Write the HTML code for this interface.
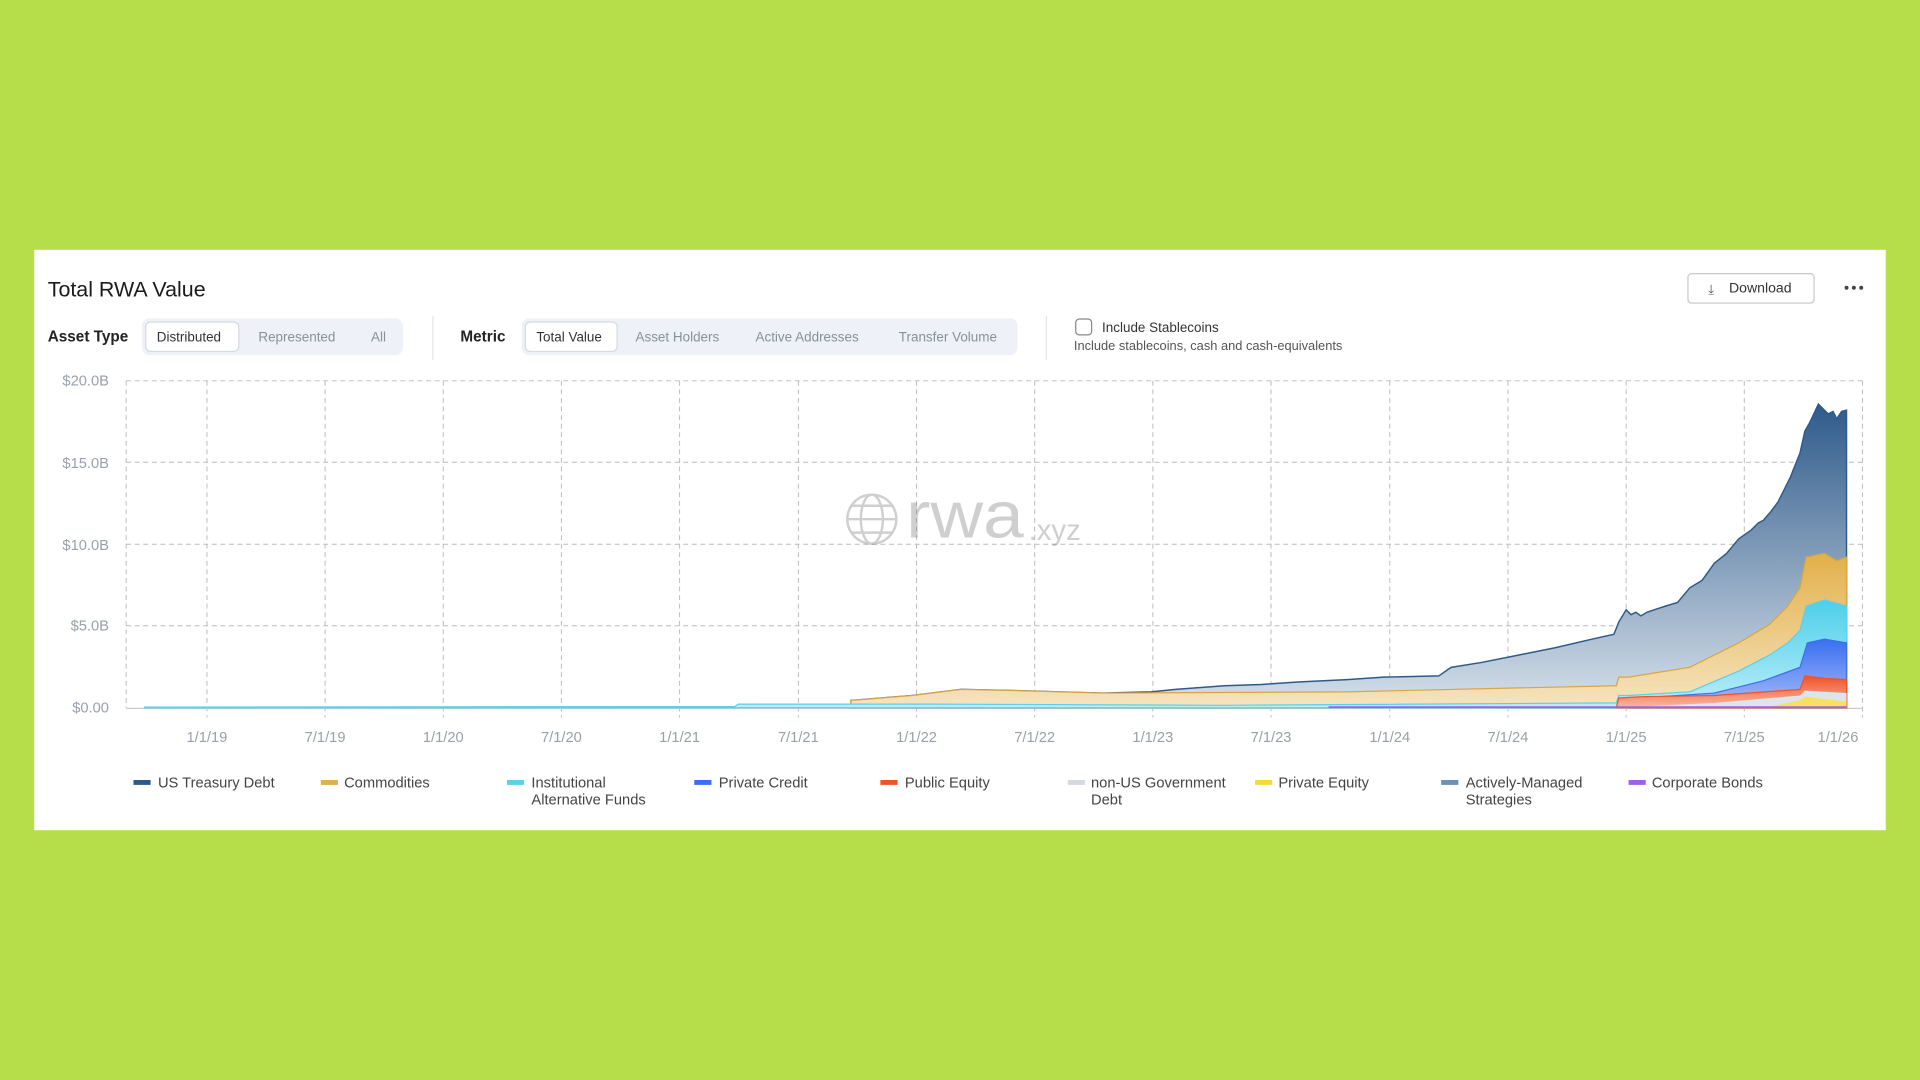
<!DOCTYPE html>
<html><head><meta charset="utf-8"><style>
html,body{margin:0;padding:0;background:#b5de4a;}
svg{display:block;}
text{font-family:"Liberation Sans",sans-serif;}
</style></head><body>
<svg width="1920" height="1080" viewBox="0 0 1568 882" xmlns="http://www.w3.org/2000/svg">
<defs>
<linearGradient id="gT" x1="0" y1="0" x2="0" y2="1"><stop offset="0" stop-color="#2e5a8a"/><stop offset="1" stop-color="#d6e0ea"/></linearGradient>
<linearGradient id="gC" x1="0" y1="0" x2="0" y2="1"><stop offset="0" stop-color="#e2b04a"/><stop offset="1" stop-color="#f6e4c0"/></linearGradient>
<linearGradient id="gI" x1="0" y1="0" x2="0" y2="1"><stop offset="0" stop-color="#4ccfea"/><stop offset="1" stop-color="#bdeef8"/></linearGradient>
<linearGradient id="gP" x1="0" y1="0" x2="0" y2="1"><stop offset="0" stop-color="#3a6ff0"/><stop offset="1" stop-color="#a8bcf8"/></linearGradient>
<linearGradient id="gE" x1="0" y1="0" x2="0" y2="1"><stop offset="0" stop-color="#f0522a"/><stop offset="1" stop-color="#f8b8a0"/></linearGradient>
</defs>
<rect width="1568" height="882" fill="#b5de4a"/>
<rect x="28" y="204" width="1512" height="474" fill="#fff"/>
<text x="39" y="242" font-size="17.5" fill="#1a1a1a">Total RWA Value</text>
<rect x="1378.5" y="223.5" width="103" height="24" rx="3" fill="#fff" stroke="#c8c8c8"/>
<text x="1395" y="240" font-size="11" fill="#555">⤓</text>
<text x="1412" y="239" font-size="11.5" fill="#333">Download</text>
<circle cx="1508" cy="235" r="1.6" fill="#444"/><circle cx="1514" cy="235" r="1.6" fill="#444"/><circle cx="1520" cy="235" r="1.6" fill="#444"/>
<text x="39" y="279" font-size="12.5" font-weight="bold" fill="#222">Asset Type</text>
<rect x="116" y="260" width="213" height="30" rx="6" fill="#eef1f8"/>
<rect x="119" y="263" width="76" height="24" rx="4" fill="#fff" stroke="#d6d9e0"/>
<text x="128" y="279" font-size="11" fill="#333">Distributed</text>
<text x="211" y="279" font-size="11" fill="#8a8f99">Represented</text>
<text x="303" y="279" font-size="11" fill="#8a8f99">All</text>
<line x1="353.5" y1="258" x2="353.5" y2="294" stroke="#e3e5ea"/>
<text x="376" y="279" font-size="12.5" font-weight="bold" fill="#222">Metric</text>
<rect x="426" y="260" width="405" height="30" rx="6" fill="#eef1f8"/>
<rect x="429" y="263" width="75" height="24" rx="4" fill="#fff" stroke="#d6d9e0"/>
<text x="438" y="279" font-size="11" fill="#333">Total Value</text>
<text x="519" y="279" font-size="11" fill="#8a8f99">Asset Holders</text>
<text x="617" y="279" font-size="11" fill="#8a8f99">Active Addresses</text>
<text x="734" y="279" font-size="11" fill="#8a8f99">Transfer Volume</text>
<line x1="854.5" y1="258" x2="854.5" y2="294" stroke="#e3e5ea"/>
<rect x="878.5" y="260.5" width="13" height="13" rx="3" fill="#fff" stroke="#888"/>
<text x="900" y="271" font-size="11" fill="#333">Include Stablecoins</text>
<text x="877" y="286" font-size="10.5" fill="#555">Include stablecoins, cash and cash-equivalents</text>
<g stroke="#bbb" stroke-dasharray="4,3" stroke-width="0.8" fill="none">
<line x1="103" y1="311" x2="1521" y2="311"/><line x1="103" y1="377.5" x2="1521" y2="377.5"/><line x1="103" y1="444.5" x2="1521" y2="444.5"/><line x1="103" y1="511" x2="1521" y2="511"/>
<line x1="103" y1="311" x2="103" y2="578"/><line x1="1521" y1="311" x2="1521" y2="586"/>
<line x1="169" y1="311" x2="169" y2="586"/><line x1="265.5" y1="311" x2="265.5" y2="586"/><line x1="362" y1="311" x2="362" y2="586"/><line x1="458.5" y1="311" x2="458.5" y2="586"/><line x1="555" y1="311" x2="555" y2="586"/><line x1="652" y1="311" x2="652" y2="586"/><line x1="748.5" y1="311" x2="748.5" y2="586"/><line x1="845" y1="311" x2="845" y2="586"/><line x1="941.5" y1="311" x2="941.5" y2="586"/><line x1="1038" y1="311" x2="1038" y2="586"/><line x1="1135" y1="311" x2="1135" y2="586"/><line x1="1231.5" y1="311" x2="1231.5" y2="586"/><line x1="1328" y1="311" x2="1328" y2="586"/><line x1="1424.5" y1="311" x2="1424.5" y2="586"/>
</g>
<line x1="103" y1="578.5" x2="1521" y2="578.5" stroke="#ccc"/>
<g font-size="12" fill="#9aa0aa" text-anchor="end">
<text x="89" y="315">$20.0B</text><text x="89" y="382">$15.0B</text><text x="89" y="449">$10.0B</text><text x="89" y="515">$5.0B</text><text x="89" y="582">$0.00</text>
</g>
<g font-size="12" fill="#9aa0aa" text-anchor="middle">
<text x="169" y="606">1/1/19</text><text x="265.5" y="606">7/1/19</text><text x="362" y="606">1/1/20</text><text x="458.5" y="606">7/1/20</text><text x="555" y="606">1/1/21</text><text x="652" y="606">7/1/21</text><text x="748.5" y="606">1/1/22</text><text x="845" y="606">7/1/22</text><text x="941.5" y="606">1/1/23</text><text x="1038" y="606">7/1/23</text><text x="1135" y="606">1/1/24</text><text x="1231.5" y="606">7/1/24</text><text x="1328" y="606">1/1/25</text><text x="1424.5" y="606">7/1/25</text><text x="1501" y="606">1/1/26</text>
</g>
<g opacity="0.35" fill="none" stroke="#777" stroke-width="2">
<circle cx="712" cy="424" r="20"/><ellipse cx="712" cy="424" rx="9" ry="20"/><line x1="692" y1="424" x2="732" y2="424"/><path d="M695 413 H729 M695 435 H729"/>
</g>
<text x="740" y="439" font-size="54" fill="#777" opacity="0.35" textLength="96" lengthAdjust="spacingAndGlyphs">rwa</text>
<text x="840" y="441" font-size="24" fill="#777" opacity="0.35">.xyz</text>
<path d="M695 578 L695 572 L720 570 L745 568 L785 563 L830 564 L900 566 L940 565 L960 563 L1000 560 L1030 559 L1060 557 L1100 555 L1130 553 L1175 552 L1185 545 L1210 541 L1240 535 L1270 529 L1300 522 L1318 518 L1322 508 L1328 498 L1332 502 L1336 500 L1340 503 L1345 500 L1360 495 L1370 492 L1380 480 L1390 474 L1400 460 L1410 452 L1420 440 L1430 433 L1436 427 L1440 425 L1446 418 L1452 410 L1458 398 L1462 390 L1470 370 L1474 352 L1478 345 L1485 330 L1489 334 L1493 338 L1497 336 L1500 342 L1504 336 L1508 335 L1508 578 Z" fill="url(#gT)" stroke="#2e5a8a" stroke-width="1.2"/>
<path d="M695 578 L695 572 L720 570 L745 568 L785 563 L830 564 L900 566 L1100 565 L1320 560 L1322 553 L1330 553 L1380 545 L1420 525 L1445 510 L1460 495 L1470 480 L1475 455 L1490 452 L1500 458 L1508 455 L1508 578 Z" fill="url(#gC)" stroke="#d9a640" stroke-width="1"/>
<path d="M118 578 L118 577.5 L600 577 L603 575 L760 575 L1000 576 L1320 574 L1322 568 L1330 568 L1380 565 L1420 548 L1445 535 L1460 525 L1470 515 L1475 495 L1490 490 L1508 495 L1508 578 Z" fill="url(#gI)" stroke="#5ad0ea" stroke-width="1"/>
<path d="M1330 578 L1340 570 L1400 566 L1440 556 L1470 545 L1476 525 L1490 522 L1508 525 L1508 578 Z" fill="url(#gP)" stroke="#3a6ff0" stroke-width="1"/>
<path d="M1320 578 L1322 570 L1340 569 L1400 568 L1470 563 L1474 552 L1490 554 L1508 555 L1508 578 Z" fill="url(#gE)" stroke="#f0522a" stroke-width="1"/>
<path d="M1320 578 L1400 574 L1470 568 L1474 564 L1508 566 L1508 578 Z" fill="#dfe3ea"/>
<path d="M1440 578 L1470 572 L1474 569 L1508 573 L1508 578 Z" fill="#f8e060"/>
<line x1="1085" y1="577.5" x2="1508" y2="577.5" stroke="#a060e8" stroke-width="1.5"/>
<g font-size="12" fill="#444">
<rect x="109" y="637" width="14" height="4" fill="#2e5a8a"/><text x="129" y="643">US Treasury Debt</text>
<rect x="262" y="637" width="14" height="4" fill="#e2b04a"/><text x="281" y="643">Commodities</text>
<rect x="414" y="637" width="14" height="4" fill="#5ad0ea"/><text x="434" y="643">Institutional</text><text x="434" y="657">Alternative Funds</text>
<rect x="567" y="637" width="14" height="4" fill="#3a6ff0"/><text x="587" y="643">Private Credit</text>
<rect x="719" y="637" width="14" height="4" fill="#f0522a"/><text x="739" y="643">Public Equity</text>
<rect x="872" y="637" width="14" height="4" fill="#d4d9e2"/><text x="891" y="643">non-US Government</text><text x="891" y="657">Debt</text>
<rect x="1025" y="637" width="14" height="4" fill="#f5d840"/><text x="1044" y="643">Private Equity</text>
<rect x="1177" y="637" width="14" height="4" fill="#6a92b8"/><text x="1197" y="643">Actively-Managed</text><text x="1197" y="657">Strategies</text>
<rect x="1330" y="637" width="14" height="4" fill="#a060e8"/><text x="1349" y="643">Corporate Bonds</text>
</g>
</svg>
</body></html>
